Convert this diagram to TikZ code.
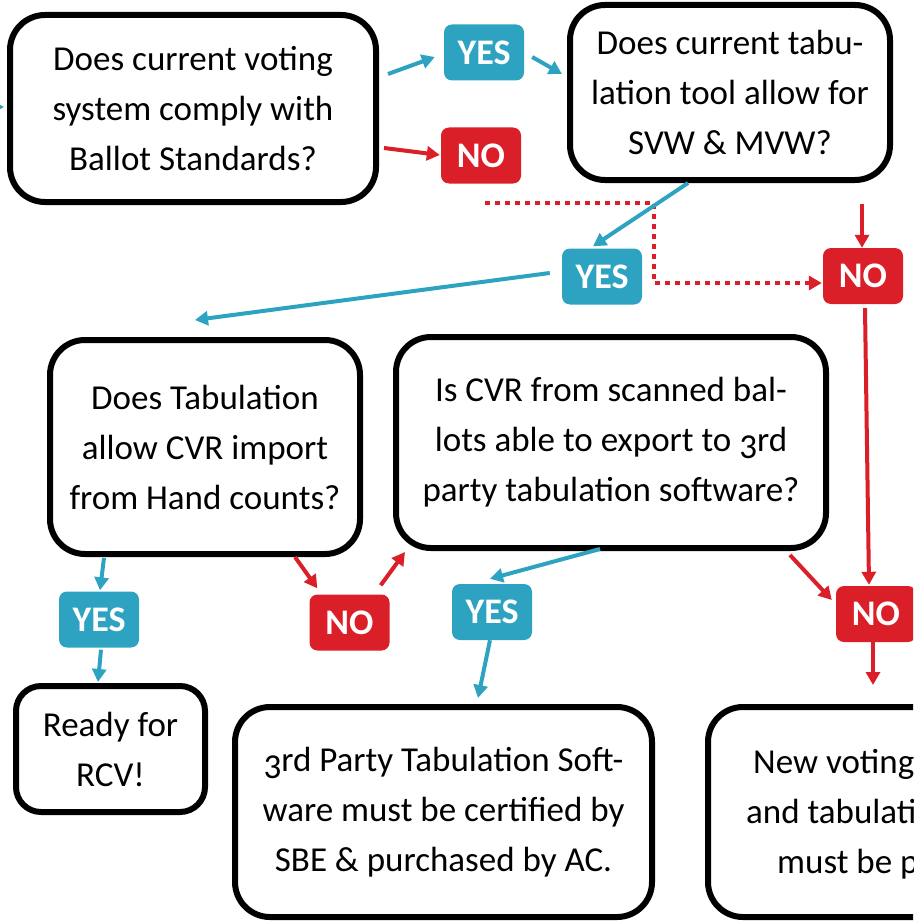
\documentclass[tikz,border=0pt]{standalone}
\usepackage{fontspec}
\setmainfont{Carlito}
\usetikzlibrary{arrows.meta,calc}
\definecolor{cblue}{RGB}{46,163,193}
\definecolor{cred}{RGB}{218,31,40}
\newcommand{\othree}{\raisebox{-0.2em}{3}}
\begin{document}
\begin{tikzpicture}[x=1pt,y=-1pt,
  box/.style={draw=black, line width=6pt, rounded corners=35pt, fill=white, align=center, font=\fontsize{35}{50}\selectfont, inner sep=0pt},
  lab/.style={rounded corners=8pt, text=white, font=\fontsize{36}{40}\selectfont\bfseries, minimum width=80pt, minimum height=56pt, inner sep=0pt},
  yes/.style={lab, fill=cblue},
  no/.style={lab, fill=cred},
  tip/.style={-{Triangle[length=13pt,width=14pt]}},
  ba/.style={cblue, line width=4pt, tip},
  ra/.style={cred, line width=4pt, tip},
  rd/.style={cred, line width=4.5pt, dash pattern=on 5pt off 5pt, tip},
  txt/.style={anchor=base west, inner sep=0pt, font=\fontsize{35}{50}\selectfont},
]
\useasboundingbox (0,0) rectangle (913,923);
\clip (0,0) rectangle (913,923);

% boxes
\node[box, minimum width=366pt, minimum height=187pt] (q1) at (193,108.5) {Does current voting\\system comply with\\Ballot Standards?};
\node[box, minimum width=320pt, minimum height=175pt] (q2) at (730,92.5) {Does current tabu-\\lation tool allow for\\SVW \& MVW?};
\node[box, minimum width=310pt, minimum height=214pt] (q3) at (205,447) {Does Tabulation\\allow CVR import\\from Hand counts?};
\node[box, minimum width=430pt, minimum height=211pt] (q4) at (611,442.5) {Is CVR from scanned bal-\\lots able to export to \othree rd\\party tabulation software?};
\node[box, rounded corners=25pt, minimum width=189pt, minimum height=126pt] (r5) at (110.5,749) {Ready for\\RCV!};
\node[box, minimum width=417pt, minimum height=210pt] (r6) at (443.5,812) {\othree rd Party Tabulation Soft-\\ware must be certified by\\SBE \& purchased by AC.};
\node[box, minimum width=417pt, minimum height=210pt] (r7) at (916.5,812) {};
\node[txt] (t1) at (753,773) {New voting};
\node[txt] (t2) at (746,823) {and tabulati};
\node[txt] (t3) at (777,873) {must be p};

% labels
\node[yes] (y1) at (484,52.5) {YES};
\node[no]  (n1) at (481,155.5) {NO};
\node[yes] (y2) at (602,276.5) {YES};
\node[no]  (n2) at (863,276) {NO};
\node[yes] (y3) at (99,619.5) {YES};
\node[no]  (n4) at (349.5,622.5) {NO};
\node[yes] (y4) at (492,612) {YES};
\node[no]  (n3) at (876,614) {NO};

% free ends
\coordinate (in0) at (-30,107);
\coordinate (d0) at (485,203);
\coordinate (d1) at (654,203);
\coordinate (e0) at (873,685);

% connectors
\draw[rd] (d0) -- (d1) |- ($(n2.west)+(-1,7)$);
\draw[ba] (in0) -- ($(q1.west)+(-3,-1.5)$);
\draw[ba] ($(q1.east)+(9,-34.5)$) -- ($(y1.west)+(-9,4.5)$);
\draw[ba] ($(y1.east)+(8,4.5)$) -- ($(q2.west)+(-5,-18.5)$);
\draw[ra] ($(q1.east)+(5,39.5)$) -- ($(n1.west)+(-1,-0.5)$);
\draw[ba] ($(q2.south)+(-42,0)$) -- ($(y2.north)+(-9,-2)$);
\draw[ra] ($(q2.south)+(132,21)$) -- ($(n2.north)+(-1,0)$);
\draw[ba] ($(y2.west)+(-12,-3.5)$) -- ($(q3.north)+(-10,-17)$);
\draw[ra] ($(n2.south)+(2,4)$) -- ($(n3.north)+(-7,-1)$);
\draw[ra] ($(q4.south)+(179,4)$) -- ($(n3.west)+(-4,-14)$);
\draw[ra] ($(n3.south)+(-3,0)$) -- (e0);
\draw[ba] ($(q3.south)+(-101,1)$) -- ($(y3.north)+(1,-1)$);
\draw[ba] ($(y3.south)+(2,2)$) -- ($(r5.north)+(-12.5,-1)$);
\draw[ra] ($(q3.south)+(90,0)$) -- ($(n4.north west)+(8,-6)$);
\draw[ra] ($(n4.north east)+(-9,-9)$) -- ($(q4.south west)+(12,1)$);
\draw[ba] ($(q4.south)+(-11,-2)$) -- ($(y4.north)+(-2,-5)$);
\draw[ba] ($(y4.south)+(-2,0)$) -- ($(r6.north)+(34.5,-6)$);
\end{tikzpicture}
\end{document}
